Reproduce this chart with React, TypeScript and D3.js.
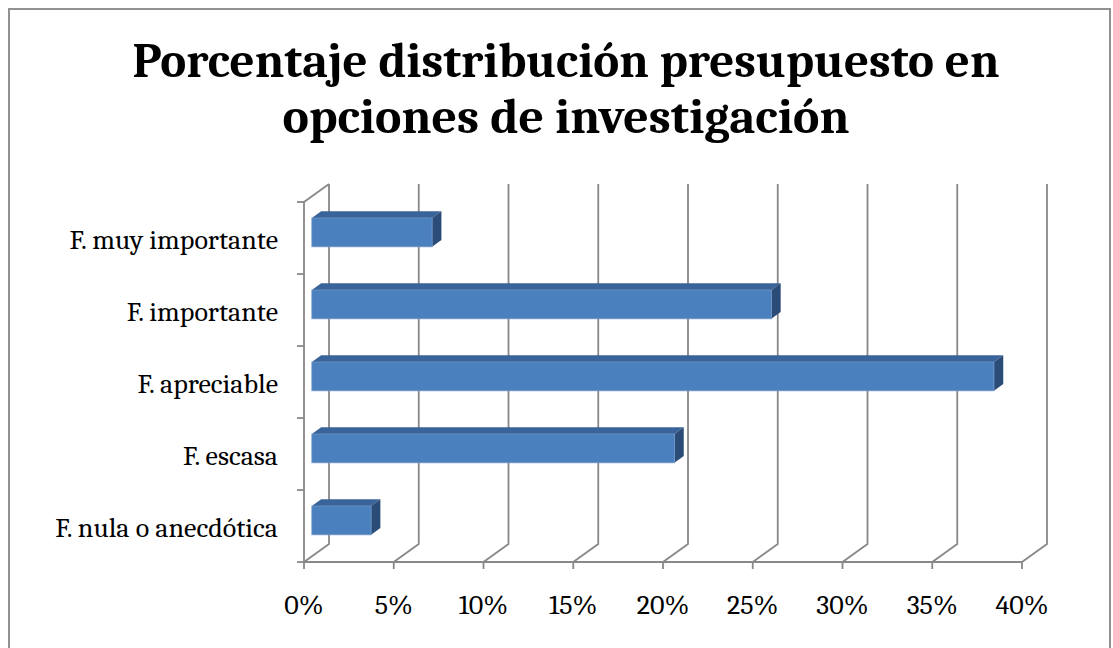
import React from "react";
import * as d3 from "d3";

const categories = [
  "F. muy importante",
  "F. importante",
  "F. apreciable",
  "F. escasa",
  "F. nula o anecdótica",
];
const values = [6.7, 25.6, 38.0, 20.2, 3.3];
const ticks = [0, 5, 10, 15, 20, 25, 30, 35, 40];
const titleLines = ["Porcentaje distribución presupuesto en", "opciones de investigación"];

const W = 1113;
const H = 648;
const left = 304;
const right = 1022;
const top = 202;
const bottom = 562;
const DX = 25; // depth offset of the walls
const DY = -18;
const BDX = 9.3; // bar depth
const BDY = -6.8;

export default function App() {
  const x = d3.scaleLinear().domain([0, 40]).range([left, right]);
  const y = d3.scaleBand<string>().domain(categories).range([top, bottom]).paddingInner(0.6).paddingOuter(0.3);
  const step = y.step();
  const grid = "#888888";
  const offX = (DX - BDX) / 2;
  const offY = (DY - BDY) / 2;
  const serif = "Cambria, Caladea, 'Liberation Serif', 'DejaVu Serif', serif";

  return (
    <svg width={W} height={H} style={{ position: "absolute", left: 0, top: 0, background: "#fff" }}>
      <rect x={9} y={9} width={1101} height={660} fill="#fff" stroke="#868686" strokeWidth={1.8} />
      <g fontFamily={serif} fontWeight="bold" fontSize={48} textAnchor="middle" fill="#000">
        <text x={566} y={77} textLength={867} lengthAdjust="spacingAndGlyphs">{titleLines[0]}</text>
        <text x={566} y={133} textLength={567} lengthAdjust="spacingAndGlyphs">{titleLines[1]}</text>
      </g>
      <g stroke={grid} strokeWidth={1.8} fill="none">
        {ticks.map((t) => (
          <path key={"g" + t} d={`M${x(t)},${bottom + 7}L${x(t)},${bottom}L${x(t) + DX},${bottom + DY}L${x(t) + DX},${top + DY}`} />
        ))}
        <line x1={left} y1={bottom} x2={right} y2={bottom} />
        <path d={`M${left},${bottom}L${left},${top}L${left + DX},${top + DY}`} />
        {d3.range(categories.length + 1).map((i) => (
          <line key={"yt" + i} x1={left - 7} x2={left} y1={top + i * step} y2={top + i * step} />
        ))}
      </g>
      {categories.map((c, i) => {
        const x0 = x(0) + offX;
        const x1 = x(values[i]) + offX;
        const y0 = (y(c) as number) + offY;
        const bh = y.bandwidth();
        return (
          <g key={c}>
            <path d={`M${x0},${y0}L${x0 + BDX},${y0 + BDY}L${x1 + BDX},${y0 + BDY}L${x1},${y0}Z`} fill="#3a6399" />
            <path d={`M${x1},${y0}L${x1 + BDX},${y0 + BDY}L${x1 + BDX},${y0 + BDY + bh}L${x1},${y0 + bh}Z`} fill="#2b4c76" />
            <rect x={x0} y={y0} width={x1 - x0} height={bh} fill="#4a80bd" stroke="#6f97c9" strokeWidth={0.8} />
          </g>
        );
      })}
      <g fontFamily={serif} fontSize={28} fill="#000">
        {categories.map((c) => (
          <text key={c} x={278} y={(y(c) as number) + y.bandwidth() / 2 + 2} textAnchor="end" dominantBaseline="central">
            {c}
          </text>
        ))}
        {ticks.map((t) => (
          <text key={"t" + t} x={x(t)} y={614} textAnchor="middle">
            {t}%
          </text>
        ))}
      </g>
    </svg>
  );
}
